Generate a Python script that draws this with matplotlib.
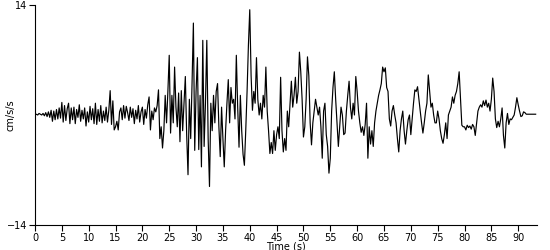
import matplotlib
matplotlib.use("Agg")
import matplotlib.pyplot as plt
import numpy as np

matplotlib.rcParams.update({'font.size': 7, 'font.family': 'DejaVu Sans'})

# acceleration samples (cm/s/s), one every 0.25 s
dt = 0.25
accel = [
    0.0, 0.1, 0.0, 0.2, 0.1, 0.0, 0.2, -0.1,
    0.3, -0.2, 0.4, -0.3,
    0.6, -0.8, 0.5, -0.6,
    0.7, -0.5, 0.9, -0.4,
    1.6, -0.9, 1.2, -0.7,
    0.8, 1.5, -1.1, 0.9,
    -0.6, 1.0, -1.1, 0.7,
    -0.3, 1.3, -0.8, 0.6,
    -0.5, 0.9, -1.4, 0.4,
    -0.9, 1.1, -0.6, 0.8,
    -1.1, 1.5, -1.2, 0.7,
    -0.8, 1.2, -1.0, 0.5,
    -0.7, 1.0, -0.9, 0.6,
    3.1, -1.2, 1.8, -1.9,
    -1.5, -0.8, -1.9, 0.4,
    0.9, -0.6, 1.2, -0.4,
    1.1, 0.3, -0.7, 1.0,
    -0.3, 0.8, -1.1, 0.6,
    -0.5, 1.2, -0.9, 0.4,
    1.0, -1.2, 0.7, -0.4,
    1.3, 2.3, -1.9, 0.5,
    -0.6, 0.9, 0.4, 1.2,
    3.2, -3.0, -1.5, -4.2,
    -2.0, 2.5, -1.0, 3.0,
    7.6, -2.3, 2.5, -1.0,
    6.1, 1.0, -1.5, 2.8,
    -3.4, 3.1, -2.0, 1.5,
    4.9, -2.5, -7.6, 2.0,
    -3.0, 4.0, 11.7, -4.5,
    3.0, 7.3, -4.4, 2.5,
    -6.6, 9.5, -4.0, 1.5,
    9.5, -3.0, -9.1, 1.5,
    -2.0, 2.5, -1.0, 3.0,
    4.0, -1.5, -5.3, 1.0,
    -3.0, -6.6, -2.0, 1.5,
    4.5, -1.0, 3.5, 1.5,
    2.0, -0.5, 7.6, 1.0,
    -4.1, 2.5, -2.0, -5.0,
    -6.4, -2.0, 3.0, 8.9,
    13.4, 5.0, 0.6, 3.0,
    1.5, 7.3, 2.0, 0.0,
    1.5, -0.5, 2.5, 1.0,
    6.1, 0.5, -2.0, -4.9,
    -3.5, -4.9, -2.0, -4.5,
    -2.5, -1.5, -3.0, 4.8,
    -2.0, -4.7, -3.0, -4.5,
    0.5, -1.5, 1.5, 4.3,
    1.0, 2.5, 4.8, 1.5,
    3.0, 8.0, 5.5, 2.0,
    -2.8, -1.5, 2.0, 7.4,
    5.0, -1.0, -3.8, -1.0,
    0.5, 2.0, 1.0, 0.0,
    1.0, -1.5, -5.5, 0.5,
    1.5, -2.5, -4.0, -7.4,
    -5.5, 0.5, 3.5, 5.5,
    2.0, -1.0, -4.0, -1.5,
    1.0, 0.0, -2.5, -2.3,
    0.5, 2.5, 4.3, 1.0,
    -0.5, 1.5, 0.0, 4.9,
    3.0, 0.5, -1.0, -2.2,
    -1.5, -2.6, -1.2, 1.5,
    -5.5, -1.5, -3.7, -2.0,
    -4.0, -1.0, 0.5, 1.5,
    2.5, 3.2, 4.0, 6.1,
    5.5, 6.0, 3.5, 3.0,
    -0.5, -1.4, 0.5, 1.2,
    0.0, -1.0, -3.0, -4.7,
    -2.0, -0.5, 0.5, -2.0,
    -3.7, -2.0, -0.6, 0.0,
    -2.5, -0.5, 1.5, 3.2,
    3.0, 3.6, 2.0, 0.5,
    -1.0, -2.3, -1.0, 0.5,
    1.5, 5.1, 3.0, 1.0,
    1.5, 0.0, -1.0, -1.0,
    0.5, -0.5, -2.0, -3.0,
    -3.6, -2.5, -1.0, -3.0,
    0.0, 0.5, 1.0, 2.3,
    1.5, 2.5, 3.0, 4.0,
    5.5, 2.0, -1.3, -1.5,
    -1.5, -1.9, -1.3, -1.6,
    -1.4, -1.8, -1.2, -1.5,
    -2.6, -1.0, 0.5, 1.0,
    1.3, 1.0, 1.8, 1.2,
    1.9, 1.0, 1.5, 0.5,
    2.0, 4.7, 3.0, -0.5,
    -1.6, -0.8, -1.5, -0.5,
    0.9, -2.6, -4.2, -1.0,
    0.2, -1.2, -0.5, -0.6,
    -0.3, 0.0, 1.0, 2.2,
    1.3, 0.5, -0.2, -0.1,
    0.4, 0.3, 0.1, 0.1,
    0.1, 0.1, 0.1, 0.1,
    0.1, 0.1,
]
time = np.arange(len(accel)) * dt

xticks = list(range(0, 95, 5))
yticks = [-14, 14]

fig = plt.figure(figsize=(5.5, 2.5), dpi=100)
ax = fig.add_axes([35 / 550, 25 / 250, 502 / 550, 220 / 250])
ax.plot(time, accel, color='black', linewidth=0.85)

ax.set_xlim(0, 93.5)
ax.set_ylim(-14, 14)
ax.set_xticks(xticks)
ax.set_yticks(yticks)
ax.spines['top'].set_visible(False)
ax.spines['right'].set_visible(False)
ax.tick_params(axis='both', direction='out', length=4, width=0.8, pad=1.5)
ax.set_xlabel("Time (s)", labelpad=-1)
ax.set_ylabel("cm/s/s")
ax.yaxis.set_label_coords(-0.038, 0.5)

fig.savefig("out.png", dpi=100)
